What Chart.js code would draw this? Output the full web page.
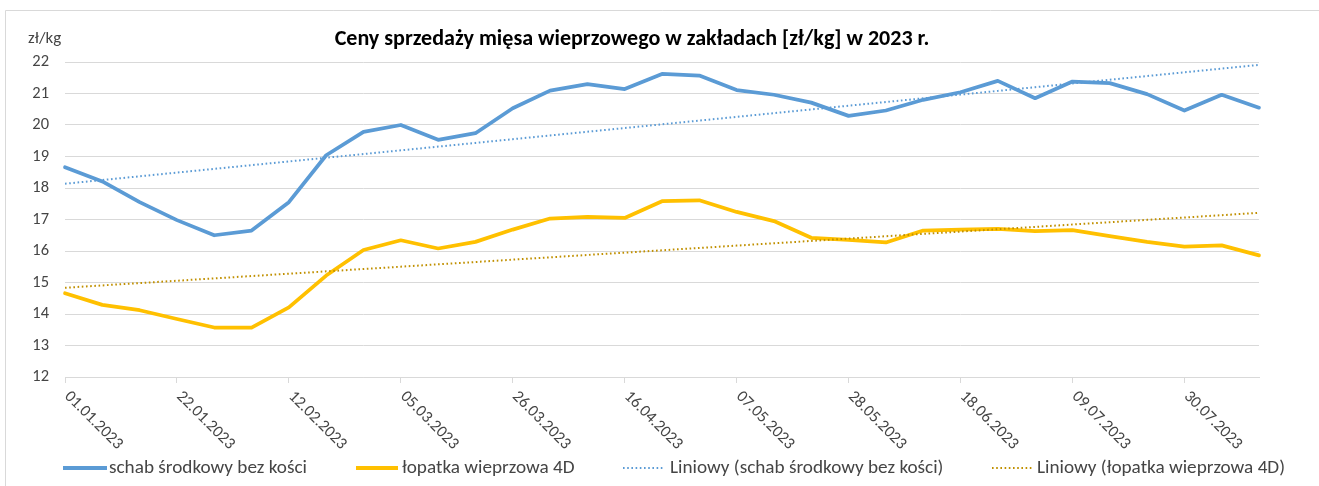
<!DOCTYPE html>
<html>
<head>
<meta charset="utf-8">
<script src="https://cdn.jsdelivr.net/npm/chart.js@4.4.1/dist/chart.umd.min.js"></script>
<style>
  html, body { margin: 0; padding: 0; background: #ffffff; }
  #wrap { width: 1319px; height: 486px; position: relative; }
</style>
</head>
<body>
<div id="wrap"><canvas id="c"></canvas></div>
<script>
// ---- data ----
const categories = ["01.01.2023","08.01.2023","15.01.2023","22.01.2023","29.01.2023","05.02.2023","12.02.2023","19.02.2023","26.02.2023","05.03.2023","12.03.2023","19.03.2023","26.03.2023","02.04.2023","09.04.2023","16.04.2023","23.04.2023","30.04.2023","07.05.2023","14.05.2023","21.05.2023","28.05.2023","04.06.2023","11.06.2023","18.06.2023","25.06.2023","02.07.2023","09.07.2023","16.07.2023","23.07.2023","30.07.2023","06.08.2023","13.08.2023"];
const schab = [18.66,18.21,17.55,16.98,16.50,16.65,17.55,19.04,19.78,20.00,19.53,19.74,20.53,21.09,21.30,21.14,21.62,21.57,21.11,20.96,20.71,20.29,20.46,20.80,21.04,21.40,20.85,21.38,21.33,20.98,20.46,20.96,20.55];
const lopatka = [14.66,14.29,14.12,13.84,13.57,13.57,14.21,15.22,16.03,16.34,16.08,16.29,16.68,17.03,17.08,17.05,17.58,17.61,17.24,16.95,16.42,16.35,16.27,16.65,16.68,16.70,16.63,16.66,16.47,16.29,16.14,16.18,15.86];
const seriesNames = ["schab środkowy bez kości", "łopatka wieprzowa 4D"];
const trendNames = ["Liniowy (schab środkowy bez kości)", "Liniowy (łopatka wieprzowa 4D)"];
const yTicks = [12,13,14,15,16,17,18,19,20,21,22];
const titleText = "Ceny sprzedaży mięsa wieprzowego w zakładach [zł/kg] w 2023 r.";
const unitText = "zł/kg";
const labelEvery = 3;

// linear trend (least squares), as the spreadsheet trendline does
function linearTrend(vals) {
  const n = vals.length;
  let sx = 0, sy = 0, sxx = 0, sxy = 0;
  vals.forEach((v, i) => { const x = i + 1; sx += x; sy += v; sxx += x * x; sxy += x * v; });
  const b = (n * sxy - sx * sy) / (n * sxx - sx * sx);
  const a = (sy - b * sx) / n;
  return vals.map((v, i) => a + b * (i + 1));
}
const schabTrend = linearTrend(schab);
const lopatkaTrend = linearTrend(lopatka);

// ---- fonts ----
const FAMILY = 'Carlito, Lato, "Liberation Sans", sans-serif';
const mctx = document.createElement('canvas').getContext('2d');
function fitSize(text, target, weight) {
  mctx.font = `${weight} 100px ${FAMILY}`;
  return 100 * target / mctx.measureText(text).width;
}
const tickSize = Math.min(16.5, fitSize("01.01.2023", 75, 'normal'));
const legendSize = (fitSize(seriesNames[0], 198, 'normal') + fitSize(seriesNames[1], 173, 'normal') +
                    fitSize(trendNames[0], 273, 'normal') + fitSize(trendNames[1], 248, 'normal')) / 4;
const titleSize = fitSize(titleText, 595, 'bold');

const BLUE = '#5B9BD5', ORANGE = '#FFC000', ORANGE_T = '#C09000', GRID = '#D9D9D9', TXT = '#454545';

const decor = {
  id: 'decor',
  beforeDraw(chart) {
    const ctx = chart.ctx;
    ctx.save();
    ctx.fillStyle = '#fff';
    ctx.fillRect(0, 0, chart.width, chart.height);
    ctx.strokeStyle = GRID; ctx.lineWidth = 1;
    ctx.beginPath();
    ctx.moveTo(5.5, chart.height); ctx.lineTo(5.5, 10.5); ctx.lineTo(chart.width, 10.5);
    ctx.stroke();
    ctx.restore();
  },
  afterDraw(chart) {
    const ctx = chart.ctx;
    const xs = chart.scales.x;
    ctx.save();
    // title
    ctx.fillStyle = '#000';
    ctx.font = `bold ${titleSize}px ${FAMILY}`;
    ctx.textAlign = 'center'; ctx.textBaseline = 'middle';
    ctx.fillText(titleText, 632, 39);
    // unit
    ctx.fillStyle = TXT;
    ctx.font = `${tickSize + 0.5}px ${FAMILY}`;
    ctx.textAlign = 'left';
    ctx.fillText(unitText, 28, 39);
    // rotated x labels
    ctx.font = `${tickSize}px ${FAMILY}`;
    categories.forEach((c, i) => {
      if (i % labelEvery !== 0) return;
      const x = xs.getPixelForValue(i);
      ctx.save();
      ctx.translate(x + 2, 394);
      ctx.rotate(Math.PI / 4);
      ctx.textAlign = 'left'; ctx.textBaseline = 'middle';
      ctx.fillText(c, 0, 0);
      ctx.restore();
    });
    // legend
    const ly = 468;
    const items = [
      {x0: 63, x1: 107, tx: 109, color: BLUE, w: 4, dash: [], text: seriesNames[0]},
      {x0: 356, x1: 398, tx: 402, color: ORANGE, w: 4, dash: [], text: seriesNames[1]},
      {x0: 623, x1: 664, tx: 670, color: BLUE, w: 2, dash: [1.6, 2.6], text: trendNames[0]},
      {x0: 992, x1: 1032, tx: 1037, color: ORANGE_T, w: 2, dash: [1.6, 2.6], text: trendNames[1]},
    ];
    ctx.font = `${legendSize}px ${FAMILY}`;
    ctx.textAlign = 'left'; ctx.textBaseline = 'middle';
    items.forEach(it => {
      ctx.beginPath();
      ctx.strokeStyle = it.color; ctx.lineWidth = it.w; ctx.setLineDash(it.dash);
      ctx.lineCap = 'butt';
      ctx.moveTo(it.x0, ly); ctx.lineTo(it.x1, ly); ctx.stroke();
      ctx.setLineDash([]);
      ctx.fillStyle = TXT;
      ctx.fillText(it.text, it.tx, ly);
    });
    ctx.restore();
  }
};

new Chart(document.getElementById('c'), {
  type: 'line',
  data: {
    labels: categories,
    datasets: [
      { label: seriesNames[0], data: schab, borderColor: BLUE, borderWidth: 3.75, pointRadius: 0, tension: 0,
        borderJoinStyle: 'round', borderCapStyle: 'round', order: 2 },
      { label: seriesNames[1], data: lopatka, borderColor: ORANGE, borderWidth: 3.75, pointRadius: 0, tension: 0,
        borderJoinStyle: 'round', borderCapStyle: 'round', order: 2 },
      { label: trendNames[0], data: schabTrend, borderColor: BLUE, borderWidth: 2, borderDash: [1.6, 2.6],
        pointRadius: 0, tension: 0, order: 1 },
      { label: trendNames[1], data: lopatkaTrend, borderColor: ORANGE_T, borderWidth: 2, borderDash: [1.6, 2.6],
        pointRadius: 0, tension: 0, order: 1 },
    ]
  },
  options: {
    responsive: true,
    maintainAspectRatio: false,
    animation: false,
    events: [],
    layout: { padding: { left: 0, right: 60, top: 62, bottom: 103 } },
    plugins: { legend: { display: false }, title: { display: false }, tooltip: { enabled: false } },
    scales: {
      x: {
        type: 'category',
        offset: false,
        ticks: { display: false, autoSkip: false },
        grid: {
          display: true, drawOnChartArea: false, drawTicks: true, tickLength: 6,
          color: (c) => (c.index % labelEvery === 0 ? GRID : 'rgba(0,0,0,0)'), lineWidth: 1
        },
        border: { display: true, color: GRID },
        afterFit(s) { s.height = 6; }
      },
      y: {
        min: 12, max: 22,
        afterBuildTicks(s) { s.ticks = yTicks.map(v => ({ value: v })); },
        ticks: { color: TXT, font: { family: FAMILY, size: tickSize }, padding: 16 },
        grid: { color: GRID, lineWidth: 1, drawTicks: false },
        border: { display: false },
        afterFit(s) { s.width = 65; }
      }
    }
  },
  plugins: [decor]
});
</script>
</body>
</html>
